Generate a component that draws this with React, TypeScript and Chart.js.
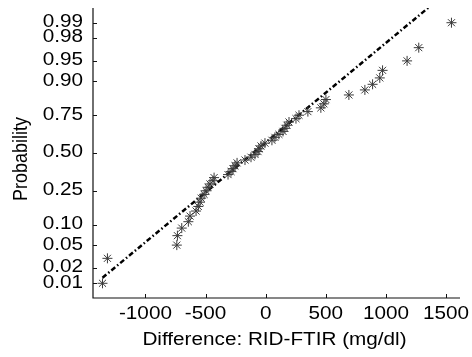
import React, { useEffect, useRef } from "react";
import { Chart, registerables } from "chart.js";

Chart.register(...registerables);

// Sorted differences RID - FTIR (mg/dl)
const differences: number[] = [
  -1357, -1316, -739, -734, -698, -643, -629, -579, -560, -546,
  -537, -512, -496, -479, -463, -438, -429, -313, -288, -272,
  -255, -238, -172, -122, -89, -64, -56, -39, -6, 52,
  77, 110, 144, 160, 177, 194, 252, 277, 351, 459,
  484, 501, 692, 825, 889, 949, 972, 1176, 1273, 1545,
];

// Reference normal fit (mean, sd)
const fitMean = -105;
const fitSd = 562;

const probTicks: number[] = [0.01, 0.02, 0.05, 0.1, 0.25, 0.5, 0.75, 0.9, 0.95, 0.98, 0.99];
const probLabels: string[] = ["0.01", "0.02", "0.05", "0.10", "0.25", "0.50", "0.75", "0.90", "0.95", "0.98", "0.99"];
const xTicks: number[] = [-1000, -500, 0, 500, 1000, 1500];
const xTickLabels: string[] = ["-1000", "-500", "0", "500", "1000", "1500"];

const xTitle = "Difference: RID-FTIR (mg/dl)";
const yTitle = "Probability";

// inverse standard normal CDF (Acklam)
function invNorm(p: number): number {
  const a = [-3.969683028665376e1, 2.209460984245205e2, -2.759285104469687e2, 1.38357751867269e2, -3.066479806614716e1, 2.506628277459239];
  const b = [-5.447609879822406e1, 1.615858368580409e2, -1.556989798598866e2, 6.680131188771972e1, -1.328068155288572e1];
  const c = [-7.784894002430293e-3, -3.223964580411365e-1, -2.400758277161838, -2.549732539343734, 4.374664141464983, 2.938163982698783];
  const d = [7.784695709041462e-3, 3.224671290700398e-1, 2.445134137142996, 3.754408661907416];
  const plow = 0.02425;
  if (p < plow) {
    const q = Math.sqrt(-2 * Math.log(p));
    return (((((c[0] * q + c[1]) * q + c[2]) * q + c[3]) * q + c[4]) * q + c[5]) / ((((d[0] * q + d[1]) * q + d[2]) * q + d[3]) * q + 1);
  }
  if (p <= 1 - plow) {
    const q = p - 0.5;
    const r = q * q;
    return ((((((a[0] * r + a[1]) * r + a[2]) * r + a[3]) * r + a[4]) * r + a[5]) * q) / (((((b[0] * r + b[1]) * r + b[2]) * r + b[3]) * r + b[4]) * r + 1);
  }
  const q = Math.sqrt(-2 * Math.log(1 - p));
  return -(((((c[0] * q + c[1]) * q + c[2]) * q + c[3]) * q + c[4]) * q + c[5]) / ((((d[0] * q + d[1]) * q + d[2]) * q + d[3]) * q + 1);
}

const SX = 1.15;
const FONT = '18px "Liberation Sans", Arial, Helvetica, sans-serif';

function drawText(ctx: CanvasRenderingContext2D, text: string, x: number, y: number, align: CanvasTextAlign, baseline: CanvasTextBaseline, rotate = false) {
  ctx.save();
  ctx.translate(x, y);
  ctx.scale(SX, 1);
  if (rotate) ctx.rotate(-Math.PI / 2);
  ctx.textAlign = align;
  ctx.textBaseline = baseline;
  ctx.fillText(text, 0, 0);
  ctx.restore();
}

const axesPlugin = {
  id: "matlabAxes",
  afterDraw(chart: any) {
    const ctx: CanvasRenderingContext2D = chart.ctx;
    const xs = chart.scales.x;
    const ys = chart.scales.y;
    const { left, right, top, bottom } = chart.chartArea;
    ctx.save();
    ctx.strokeStyle = "#111";
    ctx.lineWidth = 1.2;
    ctx.beginPath();
    ctx.moveTo(left, top);
    ctx.lineTo(left, bottom);
    ctx.lineTo(right, bottom);
    ctx.stroke();
    ctx.lineWidth = 1;
    ctx.beginPath();
    xTicks.forEach((v) => {
      const px = Math.round(xs.getPixelForValue(v)) + 0.5;
      ctx.moveTo(px, bottom);
      ctx.lineTo(px, bottom - 4);
    });
    probTicks.forEach((p) => {
      const py = Math.round(ys.getPixelForValue(invNorm(p))) + 0.5;
      ctx.moveTo(left, py);
      ctx.lineTo(left + 4, py);
    });
    ctx.stroke();
    ctx.fillStyle = "#000";
    ctx.font = FONT;
    xTicks.forEach((v, i) => {
      drawText(ctx, xTickLabels[i], xs.getPixelForValue(v), bottom + 21, "center", "alphabetic");
    });
    probTicks.forEach((p, i) => {
      drawText(ctx, probLabels[i], left - 10, ys.getPixelForValue(invNorm(p)) - 0.5, "right", "middle");
    });
    drawText(ctx, xTitle, (left + right) / 2 - 2, bottom + 47, "center", "alphabetic");
    drawText(ctx, yTitle, 27, (top + bottom) / 2 + 6, "center", "alphabetic", true);
    ctx.restore();
  },
};

export default function App() {
  const canvasRef = useRef<HTMLCanvasElement | null>(null);

  useEffect(() => {
    if (!canvasRef.current) return;
    const n = differences.length;
    const points = differences.map((x, i) => ({ x, y: invNorm((i + 0.5) / n) }));
    const xMin = Math.min(...differences);
    const xMax = Math.max(...differences);
    const fitLine = [xMin, xMax].map((x) => ({ x, y: (x - fitMean) / fitSd }));

    const chart = new Chart(canvasRef.current, {
      type: "scatter",
      data: {
        datasets: [
          {
            label: "data",
            data: points,
            pointStyle: "star",
            pointRadius: 5,
            borderColor: "#3a3a3a",
            backgroundColor: "#3a3a3a",
            pointBorderWidth: 1,
            showLine: false,
            clip: 0,
          } as any,
          {
            label: "fit",
            type: "line",
            data: fitLine,
            borderColor: "#000",
            borderWidth: 2.5,
            borderDash: [5, 2.5, 1.5, 2.5],
            pointRadius: 0,
            fill: false,
            clip: 0,
          } as any,
        ],
      },
      options: {
        animation: false,
        responsive: true,
        maintainAspectRatio: false,
        layout: { padding: { left: 93, top: 8, right: 12, bottom: 59 } },
        plugins: { legend: { display: false }, tooltip: { enabled: false } },
        scales: {
          x: { type: "linear", min: -1436, max: 1616, display: false },
          y: { type: "linear", min: -2.589, max: 2.589, display: false },
        },
      },
      plugins: [axesPlugin],
    });
    return () => chart.destroy();
  }, []);

  return (
    <div style={{ position: "absolute", left: 0, top: 0, width: 472, height: 357, background: "#fff" }}>
      <canvas ref={canvasRef} />
    </div>
  );
}
